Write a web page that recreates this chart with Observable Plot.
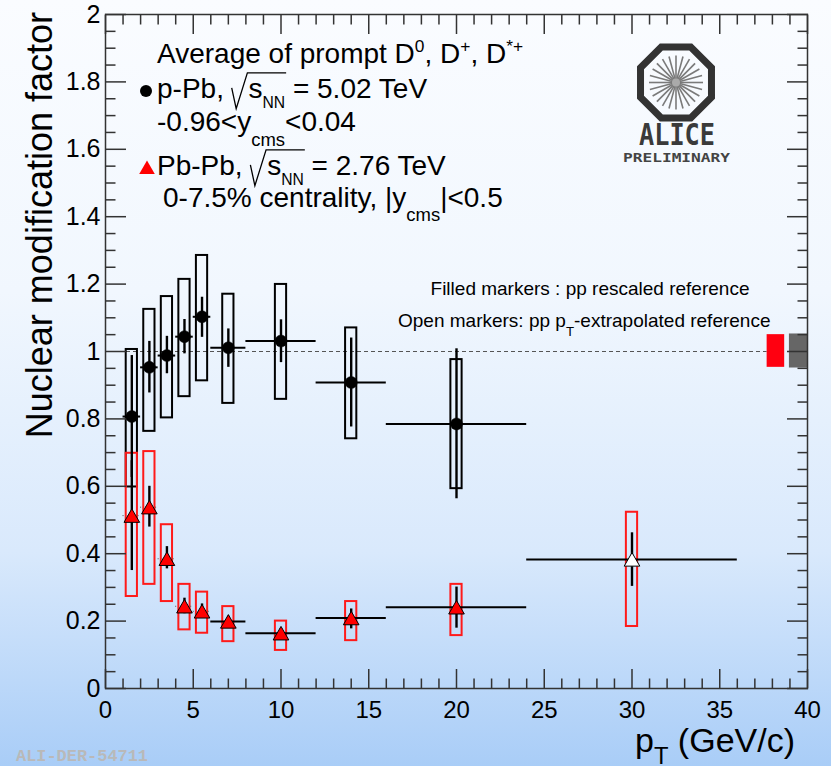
<!DOCTYPE html>
<html>
<head>
<meta charset="utf-8">
<script src="https://cdn.jsdelivr.net/npm/d3@7"></script>
<script src="https://cdn.jsdelivr.net/npm/@observablehq/plot@0.6"></script>
<style>
  html, body { margin: 0; padding: 0; overflow: hidden; }
  body {
    width: 831px; height: 766px;
    background: linear-gradient(to bottom, #fafcff 0%, #f1f7fe 38%, #d9e9fc 72%, #a9cdf7 100%);
  }
  #chart svg { display: block; }
</style>
</head>
<body>
<div id="chart"></div>
<script>
// ---- D-meson nuclear modification factor, p-Pb vs Pb-Pb ----

// p-Pb, sqrt(sNN) = 5.02 TeV: bin centres, bin edges, R_pPb, stat and syst ranges
const ppbPt     = [1.5, 2.5, 3.5, 4.5, 5.5, 7, 10, 14, 20];
const ppbLo     = [1, 2, 3, 4, 5, 6, 8, 12, 16];
const ppbHi     = [2, 3, 4, 5, 6, 8, 12, 16, 24];
const ppbR      = [0.807, 0.953, 0.988, 1.044, 1.103, 1.011, 1.031, 0.908, 0.785];
const ppbStatLo = [0.626, 0.877, 0.934, 0.993, 1.042, 0.953, 0.967, 0.776, 0.563];
const ppbStatHi = [0.988, 1.030, 1.045, 1.095, 1.161, 1.067, 1.094, 1.040, 1.008];
const ppbSysLo  = [0.598, 0.763, 0.803, 0.866, 0.913, 0.846, 0.858, 0.741, 0.593];
const ppbSysHi  = [1.006, 1.125, 1.163, 1.214, 1.285, 1.170, 1.199, 1.070, 0.976];

// Pb-Pb, sqrt(sNN) = 2.76 TeV, 0-7.5% centrality
const pbPt      = [1.5, 2.5, 3.5, 4.5, 5.5, 7, 10, 14, 20, 30];
const pbLo      = [1, 2, 3, 4, 5, 6, 8, 12, 16, 24];
const pbHi      = [2, 3, 4, 5, 6, 8, 12, 16, 24, 36];
const pbR       = [0.513, 0.538, 0.385, 0.244, 0.229, 0.199, 0.164, 0.209, 0.241, 0.383];
const pbStatLo  = [0.350, 0.479, 0.355, 0.222, 0.208, 0.184, 0.150, 0.177, 0.179, 0.303];
const pbStatHi  = [0.676, 0.600, 0.421, 0.268, 0.251, 0.214, 0.178, 0.236, 0.301, 0.462];
const pbSysLo   = [0.273, 0.309, 0.258, 0.174, 0.164, 0.139, 0.113, 0.142, 0.157, 0.184];
const pbSysHi   = [0.698, 0.703, 0.486, 0.309, 0.286, 0.243, 0.200, 0.258, 0.309, 0.523];
const pbOpen    = [false, false, false, false, false, false, false, false, false, true];

// global normalisation uncertainties (Pb-Pb red, p-Pb grey)
const normName  = ["Pb-Pb", "p-Pb"];
const normX1    = [37.7, 38.97];
const normX2    = [38.7, 40];
const normLo    = [0.953, 0.951];
const normHi    = [1.050, 1.052];

// axis ticks
const xMajor = [0, 5, 10, 15, 20, 25, 30, 35, 40];
const xMinor = d3.range(0, 41).filter(v => v % 5 !== 0);
const yMajor = [0, 0.2, 0.4, 0.6, 0.8, 1, 1.2, 1.4, 1.6, 1.8, 2];
const yMinor = d3.range(0, 41).filter(v => v % 4 !== 0).map(v => v / 20);

const FONT = "'Liberation Sans', Arial, Helvetica, sans-serif";
const BOX_HALF = 0.32;   // half width of the systematic boxes, in GeV/c

const ppb = ppbPt.map((pt, i) => ({pt, lo: ppbLo[i], hi: ppbHi[i], r: ppbR[i],
  sLo: ppbStatLo[i], sHi: ppbStatHi[i], yLo: ppbSysLo[i], yHi: ppbSysHi[i]}));
const pbpb = pbPt.map((pt, i) => ({pt, lo: pbLo[i], hi: pbHi[i], r: pbR[i],
  sLo: pbStatLo[i], sHi: pbStatHi[i], yLo: pbSysLo[i], yHi: pbSysHi[i], open: pbOpen[i]}));
const norm = normName.map((name, i) => ({name, x1: normX1[i], x2: normX2[i], lo: normLo[i], hi: normHi[i]}));

const axisColor = "#333";
const numFmt = d => String(d);

const plot = Plot.plot({
  width: 831,
  height: 766,
  marginLeft: 105,
  marginRight: 24,
  marginTop: 14,
  marginBottom: 78,
  x: {domain: [0, 40]},
  y: {domain: [0, 2]},
  style: {background: "transparent", fontFamily: FONT, color: "black", overflow: "visible"},
  marks: [
    // unity reference
    Plot.ruleY([1], {x1: 0, x2: normX1[0], stroke: "#555", strokeWidth: 1.2, strokeDasharray: "4,3"}),
    // normalisation boxes
    Plot.rect(norm, {x1: "x1", x2: "x2", y1: "lo", y2: "hi",
      fill: d => d.name === "Pb-Pb" ? "#ff0010" : "#666"}),
    // systematic boxes
    Plot.rect(ppb, {x1: d => d.pt - BOX_HALF, x2: d => d.pt + BOX_HALF, y1: "yLo", y2: "yHi",
      fill: "none", stroke: "black", strokeWidth: 2}),
    Plot.rect(pbpb, {x1: d => d.pt - BOX_HALF, x2: d => d.pt + BOX_HALF, y1: "yLo", y2: "yHi",
      fill: "none", stroke: "#ff1a1a", strokeWidth: 2}),
    // statistical bars
    Plot.ruleX(ppb, {x: "pt", y1: "sLo", y2: "sHi", stroke: "black", strokeWidth: 2.4}),
    Plot.ruleX(pbpb, {x: "pt", y1: "sLo", y2: "sHi", stroke: "black", strokeWidth: 2.4}),
    // bin widths
    Plot.ruleY(ppb, {y: "r", x1: "lo", x2: "hi", stroke: "black", strokeWidth: 2}),
    Plot.ruleY(pbpb.filter(d => d.pt >= 6), {y: "r", x1: "lo", x2: "hi", stroke: "black", strokeWidth: 2}),
    Plot.ruleY(pbpb.filter(d => d.pt < 6), {y: "r", x1: "lo", x2: "hi", stroke: "#555", strokeWidth: 1, strokeDasharray: "1,4"}),
    // markers
    Plot.dot(ppb, {x: "pt", y: "r", r: 6, fill: "black", stroke: "black", strokeWidth: 0.5}),
    Plot.dot(pbpb, {x: "pt", y: "r", symbol: "triangle", r: 5.8, dy: 2.2,
      fill: d => d.open ? "white" : "#ff0000", stroke: "black", strokeWidth: 1}),
    // frame and axes (ticks pointing inwards)
    Plot.frame({stroke: axisColor, strokeWidth: 1.5}),
    Plot.axisX(xMajor, {anchor: "bottom", tickSize: -19, tickPadding: 31, fontSize: 24, tickFormat: numFmt, color: "black", stroke: axisColor, strokeWidth: 1.5}),
    Plot.axisX(xMinor, {anchor: "bottom", tickSize: -9.5, tickFormat: () => "", stroke: axisColor, strokeWidth: 1.5}),
    Plot.axisX(xMajor, {anchor: "top", tickSize: -19, tickFormat: () => "", stroke: axisColor, strokeWidth: 1.5}),
    Plot.axisX(xMinor, {anchor: "top", tickSize: -9.5, tickFormat: () => "", stroke: axisColor, strokeWidth: 1.5}),
    Plot.axisY(yMajor, {anchor: "left", tickSize: -21, tickPadding: 26, fontSize: 25, tickFormat: numFmt, color: "black", stroke: axisColor, strokeWidth: 1.5}),
    Plot.axisY(yMinor, {anchor: "left", tickSize: -10.5, tickFormat: () => "", stroke: axisColor, strokeWidth: 1.5}),
    Plot.axisY(yMajor, {anchor: "right", tickSize: -21, tickFormat: () => "", stroke: axisColor, strokeWidth: 1.5}),
    Plot.axisY(yMinor, {anchor: "right", tickSize: -10.5, tickFormat: () => "", stroke: axisColor, strokeWidth: 1.5})
  ]
});

document.getElementById("chart").append(plot);

// ---- annotations: titles, legend, notes, logo ----
const svg = d3.select(plot);
const ann = svg.append("g")
  .attr("font-family", FONT)
  .attr("fill", "black")
  .attr("text-anchor", "start");

const T = t => ({t});
const SUB = (t, scale = 0.6, dy = 0.36) => ({t, scale, dy});
const SUP = (t, scale = 0.62, dy = -0.4) => ({t, scale, dy});
const ROOT = {root: true};
const ROOT_END = {rootEnd: true};

// text made of runs with sub/superscripts and a square-root sign
function rich(x, y, parts, size, anchor = "start") {
  const g = ann.append("g");
  let cx = 0, rootX = 0;
  for (const p of parts) {
    if (p.root) { rootX = cx; cx += size * 0.6; continue; }
    if (p.rootEnd) {
      const r = rootX;
      g.append("path")
        .attr("d", `M${r},${-0.36 * size}L${r + 0.16 * size},${0.38 * size}L${r + 0.56 * size},${-0.9 * size}H${cx + 1}`)
        .attr("fill", "none").attr("stroke", "black").attr("stroke-width", 1.3);
      continue;
    }
    const t = g.append("text")
      .attr("x", cx)
      .attr("y", (p.dy || 0) * size)
      .attr("font-size", size * (p.scale || 1))
      .text(p.t);
    cx += t.node().getComputedTextLength();
  }
  const tx = anchor === "end" ? x - cx : anchor === "middle" ? x - cx / 2 : x;
  g.attr("transform", `translate(${tx},${y})`);
}

// legend block
const LS = 28;
rich(157, 63, [T("Average of prompt D"), SUP("0"), T(", D"), SUP("+"), T(", D"), SUP("*+")], LS);
rich(157, 98, [T("p-Pb, "), ROOT, T("s"), SUB("NN", 0.56, 0.34), ROOT_END, T(" = 5.02 TeV")], LS);
rich(157, 131, [T("-0.96<y"), SUB("cms", 0.66, 0.53), T("<0.04")], LS);
rich(157, 175, [T("Pb-Pb, "), ROOT, T("s"), SUB("NN", 0.56, 0.34), ROOT_END, T(" = 2.76 TeV")], LS);
rich(163, 207, [T("0-7.5% centrality, |y"), SUB("cms", 0.66, 0.5), T("|<0.5")], LS);

ann.append("circle").attr("cx", 146).attr("cy", 91).attr("r", 6).attr("fill", "black");
ann.append("path")
  .attr("d", d3.symbol(d3.symbolTriangle, Math.PI * 5.8 * 5.8)())
  .attr("transform", "translate(147,169.5)")
  .attr("fill", "#ff0000");

// reference notes
rich(590, 295, [T("Filled markers : pp rescaled reference")], 19, "middle");
rich(398, 327, [T("Open markers: pp p"), SUB("T", 0.7, 0.45), T("-extrapolated reference")], 19);

// axis titles
ann.append("text")
  .attr("transform", "translate(52,12) rotate(-90)")
  .attr("text-anchor", "end")
  .attr("font-size", 36)
  .text("Nuclear modification factor");
rich(795, 752, [T("p"), SUB("T", 0.7, 0.36), T(" (GeV/c)")], 34, "end");

// ALICE Preliminary logo
const logo = ann.append("g").attr("transform", "translate(676,82.5)");
const oct = d3.range(8).map(k => {
  const a = Math.PI / 8 + k * Math.PI / 4;
  return [38.4 * Math.cos(a), 38.4 * Math.sin(a)];
});
logo.append("path").attr("d", "M" + oct.map(p => p.join(",")).join("L") + "Z")
  .attr("fill", "none").attr("stroke", "#333").attr("stroke-width", 7);
d3.range(24).forEach(k => {
  const a = k * Math.PI / 12;
  logo.append("line")
    .attr("x1", 3 * Math.cos(a)).attr("y1", 3 * Math.sin(a))
    .attr("x2", 27 * Math.cos(a)).attr("y2", 27 * Math.sin(a))
    .attr("stroke", "#7a7a7a").attr("stroke-width", 1.6);
});
logo.append("circle").attr("r", 4).attr("fill", "#aaa");
ann.append("text").attr("x", 639).attr("y", 145)
  .attr("font-family", "'DejaVu Sans Mono', monospace").attr("font-weight", "bold")
  .attr("font-size", 30).attr("fill", "#3a3a3a")
  .attr("textLength", 76).attr("lengthAdjust", "spacingAndGlyphs")
  .text("ALICE");
ann.append("text").attr("x", 623).attr("y", 162)
  .attr("font-family", "'DejaVu Sans Mono', monospace").attr("font-weight", "bold")
  .attr("font-size", 13).attr("fill", "#444")
  .attr("textLength", 107).attr("lengthAdjust", "spacingAndGlyphs")
  .text("PRELIMINARY");

// figure id
ann.append("text").attr("x", 16).attr("y", 761)
  .attr("font-family", "'Liberation Mono', 'DejaVu Sans Mono', monospace").attr("font-weight", "bold")
  .attr("font-size", 16).attr("fill", "#b9b9b9")
  .attr("textLength", 132).attr("lengthAdjust", "spacingAndGlyphs")
  .text("ALI-DER-54711");
</script>
</body>
</html>
